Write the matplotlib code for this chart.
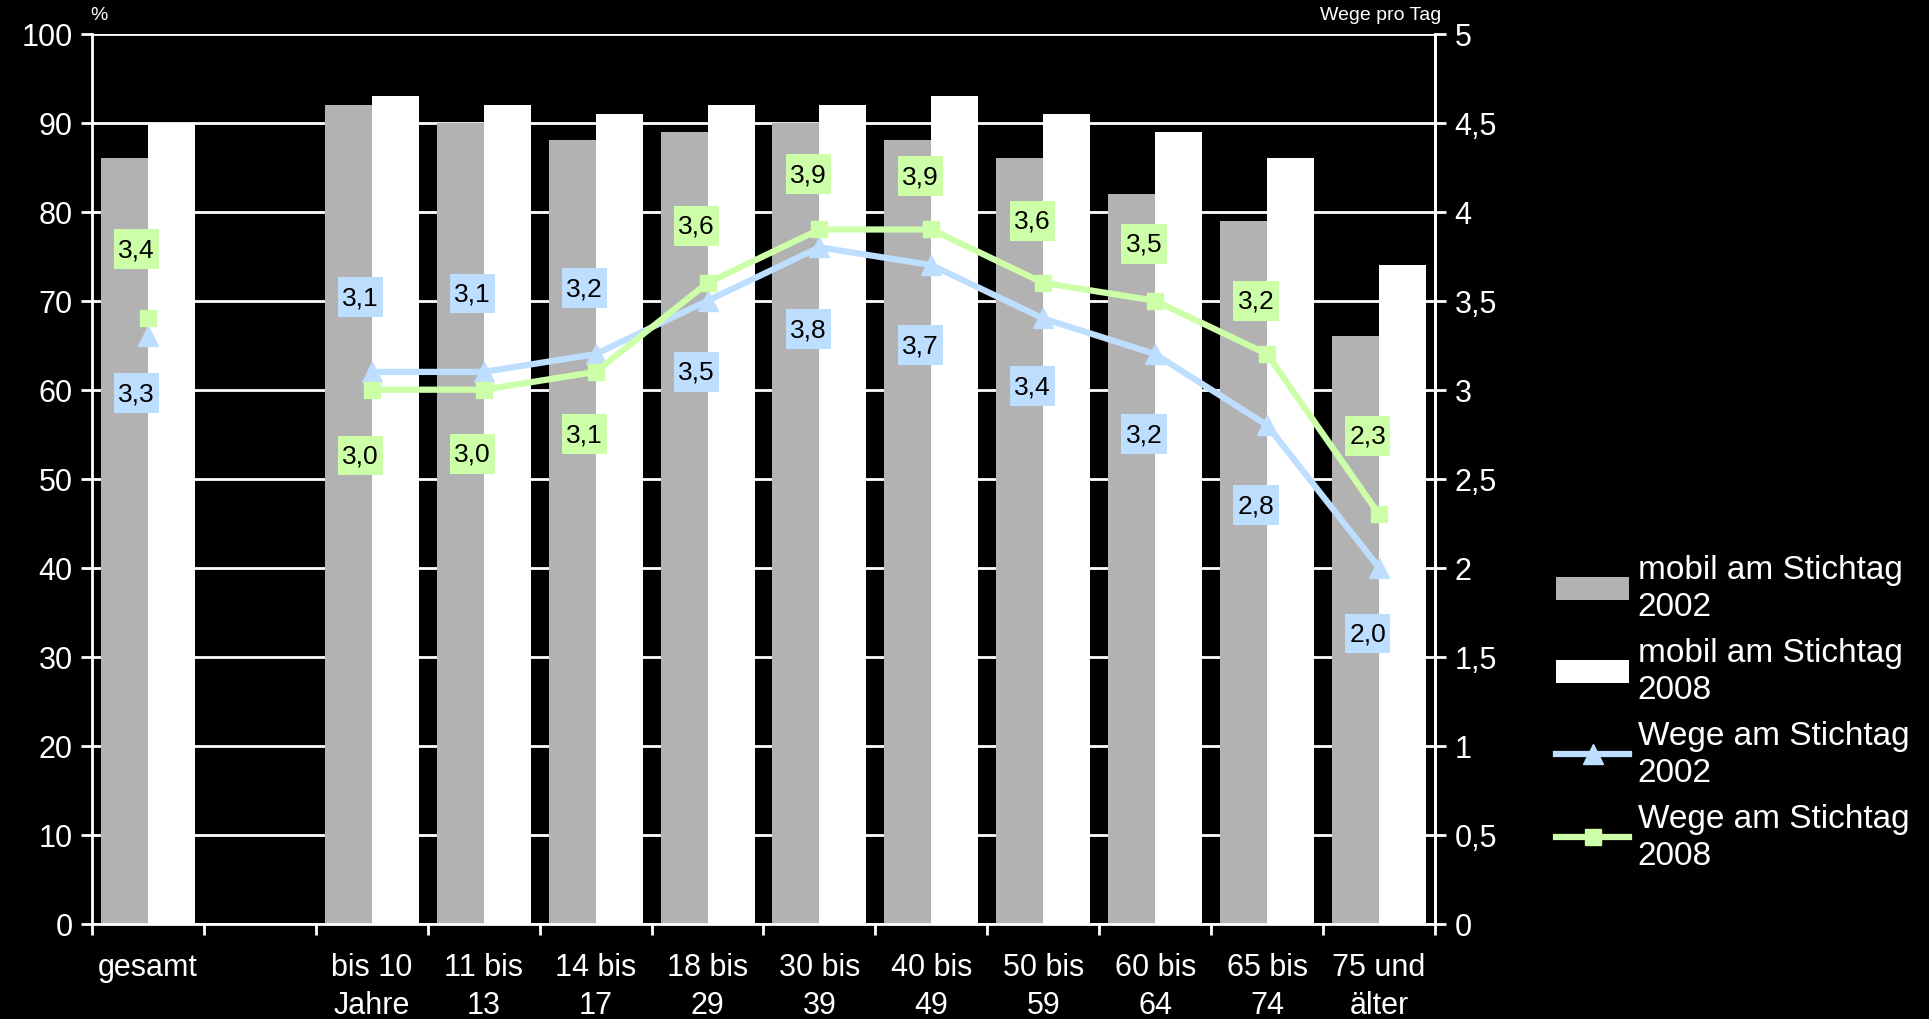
import numpy as np
import matplotlib
matplotlib.use("Agg")
import matplotlib.pyplot as plt
from matplotlib.path import Path
from matplotlib.ticker import FuncFormatter, FixedLocator

plt.rcParams['font.family'] = ['Liberation Sans', 'DejaVu Sans']

# Altersgruppen (zweiter Platz bleibt leer als Abstand nach "gesamt")
categories = ["gesamt", "", "bis 10\nJahre", "11 bis\n13", "14 bis\n17", "18 bis\n29",
              "30 bis\n39", "40 bis\n49", "50 bis\n59", "60 bis\n64", "65 bis\n74",
              "75 und\nälter"]
nan = np.nan

# Anteil mobiler Personen in %
mobil_2002 = [86, nan, 92, 90, 88, 89, 90, 88, 86, 82, 79, 66]
mobil_2008 = [90, nan, 93, 92, 91, 92, 92, 93, 91, 89, 86, 74]

# Wege pro Tag
wege_2002 = [3.3, nan, 3.1, 3.1, 3.2, 3.5, 3.8, 3.7, 3.4, 3.2, 2.8, 2.0]
wege_2008 = [3.4, nan, 3.0, 3.0, 3.1, 3.6, 3.9, 3.9, 3.6, 3.5, 3.2, 2.3]

# vertical shift of the value boxes (in Wege units)
shift_2002 = [-0.32, nan, 0.42, 0.44, 0.37, -0.40, -0.46, -0.45, -0.38, -0.45, -0.45, -0.37]
shift_2008 = [0.39, nan, -0.37, -0.36, -0.35, 0.32, 0.31, 0.30, 0.35, 0.32, 0.30, 0.44]

grey = "#B2B2B2"
blue = "#BEDEFF"
green = "#CCFFA8"
fs = 22


def label_box(x0, y0, width, height, mutation_size):
    # narrow side padding, taller top/bottom padding -> nearly square boxes
    px = 0.16 * mutation_size
    py = 0.30 * mutation_size
    x0, y0 = x0 - px, y0 - py
    x1, y1 = x0 + width + 2 * px, y0 + height + 2 * py
    return Path([(x0, y0), (x1, y0), (x1, y1), (x0, y1), (x0, y0)], closed=True)


x = np.arange(len(categories))

fig = plt.figure(figsize=(19.29, 10.20), dpi=100, facecolor="black")
ax = fig.add_axes([0.0477, 0.0934, 0.6962, 0.8726])
ax.set_facecolor("black")

m02 = np.array(mobil_2002, dtype=float)
m08 = np.array(mobil_2008, dtype=float)
ok = np.isfinite(m02)
bw = 0.42
ax.bar(x[ok] - bw / 2, m02[ok], width=bw, color=grey, zorder=2,
       label="mobil am Stichtag\n2002")
ax.bar(x[ok] + bw / 2, m08[ok], width=bw, color="white", zorder=2,
       label="mobil am Stichtag\n2008")

ax.set_xlim(-0.5, len(categories) - 0.5)
ax.set_ylim(0, 100)
ax.set_yticks(range(0, 101, 10))
ax.grid(axis="y", color="white", linewidth=2, zorder=0)
ax.set_axisbelow(True)

# boundaries get the tick marks, the labels sit in the middle of each slot
ax.xaxis.set_major_locator(FixedLocator(np.arange(-0.5, len(categories), 1.0)))
ax.xaxis.set_major_formatter(FuncFormatter(lambda v, p: ""))
ax.xaxis.set_minor_locator(FixedLocator(x))
ax.set_xticklabels(categories, minor=True)
ax.tick_params(axis="x", which="major", direction="out", length=8, width=2, colors="white")
ax.tick_params(axis="x", which="minor", length=0, pad=20, labelsize=fs, labelcolor="white")
for t in ax.get_xticklabels(minor=True):
    t.set_linespacing(1.35)
ax.tick_params(axis="y", direction="out", length=8, width=2, colors="white",
               labelsize=fs, pad=6)

ax.spines["top"].set_visible(False)
for side in ["left", "right", "bottom"]:
    ax.spines[side].set_color("white")
    ax.spines[side].set_linewidth(2)

ax2 = ax.twinx()
ax2.set_ylim(0, 5)
ax2.set_yticks(np.arange(0, 5.01, 0.5))
ax2.yaxis.set_major_formatter(FuncFormatter(lambda v, p: f"{v:g}".replace(".", ",")))
ax2.tick_params(axis="y", direction="out", length=8, width=2, colors="white",
                labelsize=fs, pad=6)
for side in ["top", "left", "bottom"]:
    ax2.spines[side].set_visible(False)
ax2.spines["right"].set_color("white")
ax2.spines["right"].set_linewidth(2)

ax2.plot(x, wege_2002, color=blue, linewidth=4.5, marker="^", markersize=15,
         zorder=3, label="Wege am Stichtag\n2002")
ax2.plot(x, wege_2008, color=green, linewidth=4.5, marker="s", markersize=12,
         zorder=3, label="Wege am Stichtag\n2008")

for vals, shifts, col in [(wege_2002, shift_2002, blue), (wege_2008, shift_2008, green)]:
    for xi, v, s in zip(x, vals, shifts):
        if np.isnan(v):
            continue
        ax2.text(xi - 0.1, v + s, f"{v:.1f}".replace(".", ","), fontsize=19,
                 color="black", ha="center", va="center", zorder=5,
                 bbox=dict(boxstyle=label_box, fc=col, ec="none"))

fig.text(90 / 1929, 1 - 16 / 1020, "%", color="white", fontsize=14, ha="left", va="center")
fig.text(1441 / 1929, 1 - 16 / 1020, "Wege pro Tag", color="white", fontsize=14,
         ha="right", va="center")

h1, l1 = ax.get_legend_handles_labels()
h2, l2 = ax2.get_legend_handles_labels()
leg = fig.legend(h1 + h2, l1 + l2, loc="upper left", bbox_to_anchor=(1556 / 1929, 1 - 555 / 1020),
                 frameon=False, fontsize=24, labelcolor="white", handlelength=2.2,
                 handletextpad=0.25, labelspacing=0.45, borderaxespad=0, borderpad=0)
for t in leg.get_texts():
    t.set_linespacing(1.25)

fig.savefig("out.png", dpi=100, facecolor="black")
